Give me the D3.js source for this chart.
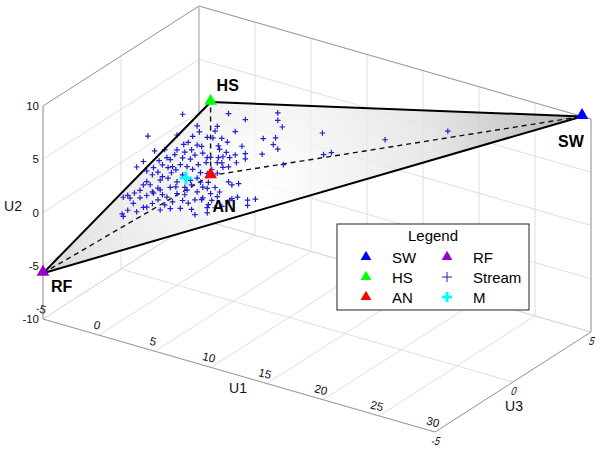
<!DOCTYPE html>
<html>
<head>
<meta charset="utf-8">
<script src="https://cdn.jsdelivr.net/npm/d3@7"></script>
<style>
  body { margin: 0; background: #fff; }
  text { font-family: "Liberation Sans", Arial, Helvetica, sans-serif; }
</style>
</head>
<body>
<div id="chart"></div>
<script>
// axis ranges and ticks
const U1_RANGE = [-5, 30]
const U2_RANGE = [-10, 10]
const U3_RANGE = [-5, 5]
const U1_TICKS = [-5, 0, 5, 10, 15, 20, 25, 30]
const U2_TICKS = [-10, -5, 0, 5, 10]
const U3_TICKS = [-5, 0, 5]

// end members (U1, U2, U3)
const endNames = ["SW", "HS", "AN", "RF"]
const endU1 = [29.2, 3.0, 3.0, -5.0]
const endU2 = [10.0, 8.1, 1.2, -5.7]
const endU3 = [5.0, 0.0, 0.0, -5.0]
const endColors = ["#0000ff", "#00ff00", "#ff0000", "#9900cc"]

// mean of stream samples
const meanPoint = [0.8, 0.3, 0.0]

// stream samples [U1, U2, U3]
const stream = [
  [0.5,6.2,0],[4.6,7.5,0],[6.1,7.4,0],[9.0,8.9,0],[9.0,8.2,0],[9.4,7.7,0],[-2.6,3.2,0],[1.8,5.5,0],
  [2.0,5.0,0],[3.6,6.0,0],[3.4,5.5,0],[5.2,6.0,0],[2.7,4.7,0],[3.2,4.8,0],[4.0,5.0,0],[0.0,4.1,0],
  [4.5,4.8,0],[0.6,3.4,0],[1.8,3.7,0],[3.7,4.2,0],[5.8,4.8,0],[7.7,6.1,0],[8.8,6.5,0],[8.6,5.8,0],
  [9.0,5.5,0],[7.6,4.6,0],[6.1,4.2,0],[5.2,3.8,0],[4.7,3.4,0],[4.4,3.8,0],[3.8,3.9,0],[4.1,3.3,0],
  [3.7,3.1,0],[3.0,2.9,0],[6.1,3.7,0],[9.5,4.2,0],[4.0,2.7,0],[3.6,2.6,0],[4.1,2.3,0],[3.1,1.8,0],
  [3.6,1.6,0],[0.0,2.7,0],[1.3,3.1,0],[-2.0,2.0,0],[-0.2,2.2,0],[0.5,2.1,0],[1.2,2.2,0],[2.3,3.1,0],
  [2.7,2.8,0],[-3.0,0.7,0],[-1.6,1.2,0],[-3.6,0.0,0],[-2.1,0.4,0],[-1.3,0.9,0],[-0.8,0.8,0],[0.3,1.4,0],
  [0.9,1.4,0],[1.9,1.9,0],[2.6,2.3,0],[-2.7,-0.1,0],[-1.7,0.1,0],[-0.5,0.4,0],[1.4,1.3,0],[2.1,1.2,0],
  [-2.2,-0.3,0],[-1.3,-0.2,0],[-0.9,1.7,0],[-0.4,1.0,0],[2.7,1.3,0],[5.3,3.1,0],[4.6,2.5,0],
  [3.4,0.2,0],[3.8,-0.1,0],[4.6,1.1,0],[5.4,-0.1,0],[6.3,-0.1,0],[7.0,0.2,0],[4.7,-0.6,0],[-2.7,-1.1,0],
  [-1.5,-0.6,0],[-0.8,-0.2,0],[-2.1,-2.0,0],[-1.5,-1.5,0],[-0.6,-1.0,0],[0.0,-1.4,0],[0.7,-0.6,0],
  [1.3,-0.2,0],[1.8,-0.7,0],[2.3,-0.1,0],[-4.8,-3.2,0],[-4.2,-3.1,0],[-3.9,-3.5,0],[-3.3,-2.8,0],
  [-3.0,-3.6,0],[-2.2,-3.0,0],[-1.7,-2.5,0],[-0.9,-2.0,0],[-0.4,-2.3,0],[0.5,-1.9,0],[1.0,-2.0,0],
  [1.6,-1.5,0],[2.2,-1.3,0],[2.7,-1.9,0],[-0.6,-3.0,0],[0.3,-2.7,0],[1.3,-2.5,0],[-4.9,-4.8,0],
  [-4.4,-4.3,0],[-3.6,-4.2,0],[-4.4,-2.9,0],[-4.8,-5.0,0],[-3.0,-1.5,0],[-2.7,-2.4,0],[-2.2,-1.9,0],
  [-1.7,-1.4,0],[-1.1,-2.8,0],[0.0,-0.3,0],[0.9,-0.8,0],[2.1,0.3,0],[2.3,-1.1,0],[2.7,-0.1,0],
  [-2.7,-3.5,0],[2.8,0.5,0],[4.9,0.9,0],[5.5,1.2,0],[3.6,-0.6,0],[3.1,-1.1,0],[2.8,-1.6,0],[3.4,-1.7,0],
  [4.0,-1.4,0],[4.9,-0.4,0],[6.3,-0.6,0],[2.7,-2.4,0],
  [20.0,7.7,3],[14.4,5.2,3],[10.2,5.5,2],[10.3,3.5,2],[11.0,3.9,2],
  [-1.1,2.4,0],[0.7,2.7,0],[-0.6,1.6,0],[1.6,2.7,0],[-2.4,-1.3,0],[-1.3,-1.9,0],[-0.1,-0.8,0],
  [0.7,-1.3,0],[1.2,0.2,0],[1.8,0.6,0],[0.5,0.5,0],[-0.1,0.8,0],[-3.3,-2.1,0],[-3.8,-2.5,0],
  [-1.5,-3.4,0],[1.6,-2.9,0],[3.0,-0.5,0],[1.0,3.7,0],[1.4,4.4,0],[2.2,3.7,0]
]

const legendItems = [
  { name: "SW", type: "tri", color: "#0000ff" },
  { name: "HS", type: "tri", color: "#00ff00" },
  { name: "AN", type: "tri", color: "#ff0000" },
  { name: "RF", type: "tri", color: "#9900cc" },
  { name: "Stream", type: "plus", color: "#2020d0" },
  { name: "M", type: "bigplus", color: "#00ffff" },
]

const width = 600
const height = 451

// 3D box projection: screen position of (U1min, U2min, U3min) and edge vectors
const corner = [43, 319]
const vU1 = [392, 113]
const vU2 = [0, -213]
const vU3 = [156, -100]

const s1 = d3.scaleLinear().domain(U1_RANGE).range([0, 1])
const s2 = d3.scaleLinear().domain(U2_RANGE).range([0, 1])
const s3 = d3.scaleLinear().domain(U3_RANGE).range([0, 1])

const proj = (p) => {
  const a = s1(p[0]), b = s2(p[1]), c = s3(p[2])
  return [
    corner[0] + a * vU1[0] + b * vU2[0] + c * vU3[0],
    corner[1] + a * vU1[1] + b * vU2[1] + c * vU3[1],
  ]
}

const svg = d3.select("#chart").append("svg")
  .attr("width", width)
  .attr("height", height)
  .attr("viewBox", `0 0 ${width} ${height}`)

const line3 = (g, p, q, color, w) => {
  const a = proj(p), b = proj(q)
  g.append("line")
    .attr("x1", a[0]).attr("y1", a[1])
    .attr("x2", b[0]).attr("y2", b[1])
    .attr("stroke", color)
    .attr("stroke-width", w)
}

// grid on the three back planes
const grid = svg.append("g").attr("class", "grid")
const gridColor = "#d6d6d6"
const [x0, x1] = U1_RANGE, [y0, y1] = U2_RANGE, [z0, z1] = U3_RANGE
U1_TICKS.forEach((t) => {
  line3(grid, [t, y0, z0], [t, y0, z1], gridColor, 0.8)
  line3(grid, [t, y0, z1], [t, y1, z1], gridColor, 0.8)
})
U2_TICKS.forEach((t) => {
  line3(grid, [x0, t, z0], [x0, t, z1], gridColor, 0.8)
  line3(grid, [x0, t, z1], [x1, t, z1], gridColor, 0.8)
})
U3_TICKS.forEach((t) => {
  line3(grid, [x0, y0, t], [x1, y0, t], gridColor, 0.8)
  line3(grid, [x0, y0, t], [x0, y1, t], gridColor, 0.8)
})

// box edges
const edges = svg.append("g").attr("class", "edges")
const edgeColor = "#9a9a9a"
line3(edges, [x0, y0, z0], [x0, y1, z0], edgeColor, 1)
line3(edges, [x0, y0, z0], [x1, y0, z0], edgeColor, 1)
line3(edges, [x1, y0, z0], [x1, y0, z1], edgeColor, 1)
line3(edges, [x1, y0, z1], [x1, y1, z1], edgeColor, 1)
line3(edges, [x0, y1, z0], [x0, y1, z1], edgeColor, 1)
line3(edges, [x0, y1, z1], [x1, y1, z1], edgeColor, 1)
line3(edges, [x0, y0, z1], [x0, y1, z1], "#b5b5b5", 1)

// tick labels
const ticks = svg.append("g").attr("font-size", "11.5px").attr("fill", "#111")
U1_TICKS.forEach((t) => {
  const p = proj([t, y0, z0])
  ticks.append("text")
    .attr("transform", `translate(${p[0] - 2},${p[1] - 10}) rotate(14)`)
    .attr("text-anchor", "middle")
    .attr("dy", "0.35em")
    .text(t)
})
U2_TICKS.forEach((t) => {
  const p = proj([x0, t, z0])
  ticks.append("text")
    .attr("x", p[0] - 4)
    .attr("y", p[1])
    .attr("text-anchor", "end")
    .attr("dy", "0.35em")
    .text(t)
})
U3_TICKS.forEach((t) => {
  const p = proj([x1, y0, t])
  ticks.append("text")
    .attr("transform", `translate(${p[0] + 1},${p[1] + 9}) skewX(-18) scale(0.8,1)`)
    .attr("text-anchor", "middle")
    .attr("dy", "0.35em")
    .text(t)
})

// axis titles
const titles = svg.append("g").attr("font-size", "14px").attr("fill", "#111")
titles.append("text").attr("x", 238).attr("y", 393).attr("text-anchor", "middle").text("U1")
titles.append("text").attr("x", 13).attr("y", 211).attr("text-anchor", "middle").text("U2")
titles.append("text").attr("x", 514).attr("y", 411).attr("text-anchor", "middle").text("U3")

// mixing space
const ends = endNames.map((n, i) => ({
  name: n,
  p: proj([endU1[i], endU2[i], endU3[i]]),
  color: endColors[i],
}))
const byName = Object.fromEntries(ends.map((e) => [e.name, e]))

const face = [byName.HS.p, byName.SW.p, byName.RF.p]
const cx = d3.mean(face, (d) => d[0])
const cy = d3.mean(face, (d) => d[1])

const defs = svg.append("defs")
const grad = defs.append("radialGradient")
  .attr("id", "faceGrad")
  .attr("gradientUnits", "userSpaceOnUse")
  .attr("cx", cx - 20).attr("cy", cy + 20).attr("r", 320)
grad.append("stop").attr("offset", "0").attr("stop-color", "#ffffff")
grad.append("stop").attr("offset", "0.55").attr("stop-color", "#e2e2e2")
grad.append("stop").attr("offset", "1").attr("stop-color", "#a8a8a8")

svg.append("path")
  .attr("d", d3.line()(face) + "Z")
  .attr("fill", "url(#faceGrad)")
  .attr("fill-opacity", 0.8)
  .attr("stroke", "none")

// hidden edges
const dashed = svg.append("g")
  .attr("stroke", "#111")
  .attr("stroke-width", 1.4)
  .attr("stroke-dasharray", "5,4")
;["HS", "SW", "RF"].forEach((n) => {
  dashed.append("line")
    .attr("x1", byName.AN.p[0]).attr("y1", byName.AN.p[1])
    .attr("x2", byName[n].p[0]).attr("y2", byName[n].p[1])
})

// stream samples
const plus = (size) => `M${-size},0H${size}M0,${-size}V${size}`
svg.append("g")
  .attr("stroke", "#2222cc")
  .attr("stroke-width", 1.2)
  .selectAll("path")
  .data(stream)
  .join("path")
  .attr("transform", (d) => `translate(${proj(d)})`)
  .attr("d", plus(2.8))

// visible edges
const solid = svg.append("g")
  .attr("stroke", "#000")
  .attr("stroke-width", 2)
  .attr("fill", "none")
solid.append("path").attr("d", d3.line()(face) + "Z").attr("stroke-linejoin", "round")

// end member markers
const tri = d3.symbol().type(d3.symbolTriangle).size(70)
svg.append("g")
  .selectAll("path")
  .data(ends)
  .join("path")
  .attr("transform", (d) => `translate(${d.p[0]},${d.p[1] - 1})`)
  .attr("d", tri)
  .attr("fill", (d) => d.color)

// mean marker
const mp = proj(meanPoint)
svg.append("path")
  .attr("transform", `translate(${mp})`)
  .attr("d", plus(6.5))
  .attr("stroke", "#00ffff")
  .attr("stroke-width", 3)

// end member labels
const labelOffset = { HS: [6, -11], SW: [-24, 31], RF: [8, 19], AN: [2, 36] }
svg.append("g")
  .attr("font-size", "16px")
  .attr("font-weight", "bold")
  .selectAll("text")
  .data(ends)
  .join("text")
  .attr("x", (d) => d.p[0] + labelOffset[d.name][0])
  .attr("y", (d) => d.p[1] + labelOffset[d.name][1])
  .text((d) => d.name)

// legend
const legend = svg.append("g").attr("transform", "translate(337,224)")
legend.append("rect")
  .attr("width", 192).attr("height", 86)
  .attr("fill", "#fff")
  .attr("stroke", "#222")
  .attr("stroke-width", 1)
legend.append("text")
  .attr("x", 96).attr("y", 17)
  .attr("text-anchor", "middle")
  .attr("font-size", "15px")
  .text("Legend")

const legendTri = d3.symbol().type(d3.symbolTriangle).size(50)
legendItems.forEach((item, i) => {
  const col = Math.floor(i / 3), row = i % 3
  const mx = 29 + col * 81, my = 33 + row * 20
  const g = legend.append("g").attr("transform", `translate(${mx},${my})`)
  if (item.type === "tri") {
    g.append("path").attr("d", legendTri).attr("fill", item.color)
  } else if (item.type === "plus") {
    g.append("path").attr("d", plus(5)).attr("stroke", item.color).attr("stroke-width", 1)
  } else {
    g.append("path").attr("d", plus(5)).attr("stroke", item.color).attr("stroke-width", 3)
  }
  legend.append("text")
    .attr("x", mx + 26).attr("y", my + 6)
    .attr("font-size", "15px")
    .text(item.name)
})
</script>
</body>
</html>
